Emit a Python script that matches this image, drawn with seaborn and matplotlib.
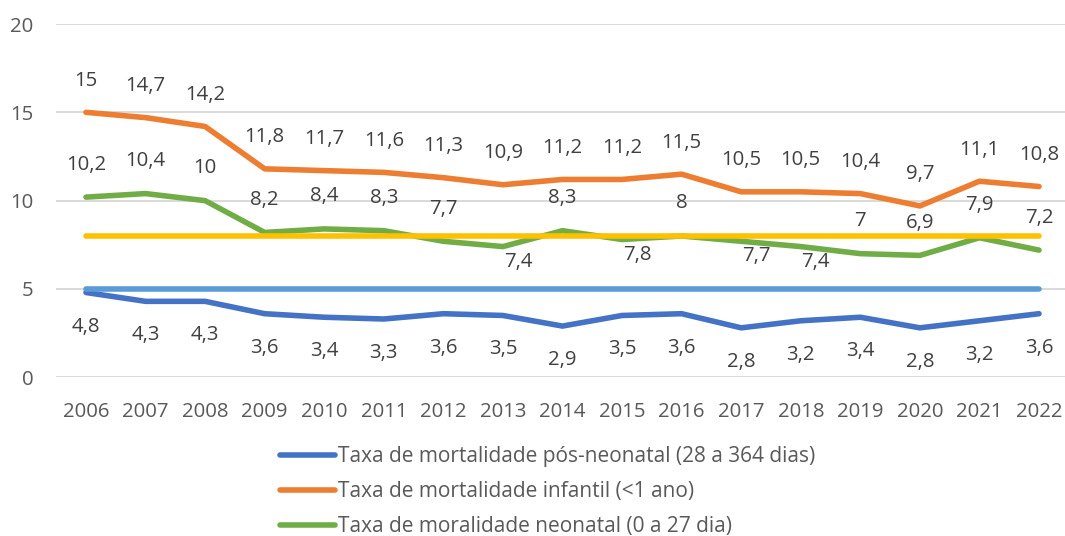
import matplotlib
matplotlib.use("Agg")
import matplotlib.pyplot as plt
import seaborn as sns
import pandas as pd
from matplotlib.lines import Line2D

years = list(range(2006, 2023))
pos_neonatal = [4.8, 4.3, 4.3, 3.6, 3.4, 3.3, 3.6, 3.5, 2.9, 3.5, 3.6, 2.8, 3.2, 3.4, 2.8, 3.2, 3.6]
infantil = [15, 14.7, 14.2, 11.8, 11.7, 11.6, 11.3, 10.9, 11.2, 11.2, 11.5, 10.5, 10.5, 10.4, 9.7, 11.1, 10.8]
neonatal = [10.2, 10.4, 10, 8.2, 8.4, 8.3, 7.7, 7.4, 8.3, 7.8, 8, 7.7, 7.4, 7, 6.9, 7.9, 7.2]
meta_infantil = [8, 8, 8, 8, 8, 8, 8, 8, 8, 8, 8, 8, 8, 8, 8, 8, 8]
meta_pos = [5, 5, 5, 5, 5, 5, 5, 5, 5, 5, 5, 5, 5, 5, 5, 5, 5]

names = ["Taxa de mortalidade pós-neonatal (28 a 364 dias)",
         "Taxa de mortalidade infantil (<1 ano)",
         "Taxa de moralidade neonatal (0 a 27 dia)"]
yticks = [0, 5, 10, 15, 20]

# styling
c_blue, c_orange, c_green = "#4472C4", "#ED7D31", "#70AD47"
c_yellow, c_lblue = "#FFC000", "#5B9BD5"
txt = "#404040"
tick_c = "#595959"
FONT = "Open Sans"
LW = 4.0

sns.set_theme(style="white")
plt.rcParams["font.family"] = [FONT, "DejaVu Sans"]

fig = plt.figure(figsize=(10.65, 5.36), dpi=100)
W, H = 1065, 536
left, right, top, bottom = 56.2, 1068.8, 24.0, 377.3
ax = fig.add_axes([left / W, 1 - bottom / H, (right - left) / W, (bottom - top) / H])

df = pd.DataFrame({"ano": years * 3,
                   "valor": pos_neonatal + infantil + neonatal,
                   "serie": [names[0]] * 17 + [names[1]] * 17 + [names[2]] * 17})
sns.lineplot(data=df, x="ano", y="valor", hue="serie", hue_order=names,
             palette=[c_blue, c_orange, c_green], linewidth=LW, ax=ax,
             legend=False, solid_capstyle="round", zorder=3)
tdf = pd.DataFrame({"ano": years * 2, "valor": meta_infantil + meta_pos,
                    "serie": ["m8"] * 17 + ["m5"] * 17})
sns.lineplot(data=tdf, x="ano", y="valor", hue="serie", hue_order=["m8", "m5"],
             palette=[c_yellow, c_lblue], linewidth=LW, ax=ax, legend=False,
             solid_capstyle="round", zorder=4)

ax.set_xlim(years[0] - 0.5, years[-1] + 0.5)
ax.set_ylim(yticks[0], yticks[-1])
ax.set_yticks(yticks)
ax.set_xticks(years)
ax.set_xticklabels([str(y) for y in years])
ax.grid(axis="y", color="#D9D9D9", linewidth=1.4, zorder=0)
ax.grid(axis="x", visible=False)
for s in ax.spines.values():
    s.set_visible(False)
ax.tick_params(axis="y", length=0, pad=16.5, labelsize=14.7, labelcolor=tick_c)
ax.tick_params(axis="x", length=0, pad=18, labelsize=14.7, labelcolor=tick_c)
ax.set_xlabel("")
ax.set_ylabel("")

def fmt(v):
    return f"{v:g}".replace(".", ",")

FS = 14.7
for x, v in zip(years, infantil):
    ax.annotate(fmt(v), (x, v), xytext=(0, 31.5), textcoords="offset pixels",
                ha="center", va="center", fontsize=FS, color=txt, zorder=6)
for x, v in zip(years, pos_neonatal):
    ax.annotate(fmt(v), (x, v), xytext=(0, -34), textcoords="offset pixels",
                ha="center", va="center", fontsize=FS, color=txt, zorder=6)
below_idx = {7, 9, 11, 12}
for i, (x, v) in enumerate(zip(years, neonatal)):
    off = (15, -15) if i in below_idx else (0, 32.5)
    ax.annotate(fmt(v), (x, v), xytext=off, textcoords="offset pixels",
                ha="center", va="center", fontsize=FS, color=txt, zorder=6)

handles = [Line2D([], [], color=c, linewidth=LW, solid_capstyle="round")
           for c in (c_blue, c_orange, c_green)]
fig.legend(handles, names, loc="center left",
           bbox_to_anchor=(280 / W, 1 - 491.7 / H), frameon=False,
           fontsize=15, handlelength=2.64, handletextpad=0.14,
           labelspacing=0.68, borderpad=0, borderaxespad=0,
           labelcolor=tick_c)

fig.savefig("out.png", dpi=100)
